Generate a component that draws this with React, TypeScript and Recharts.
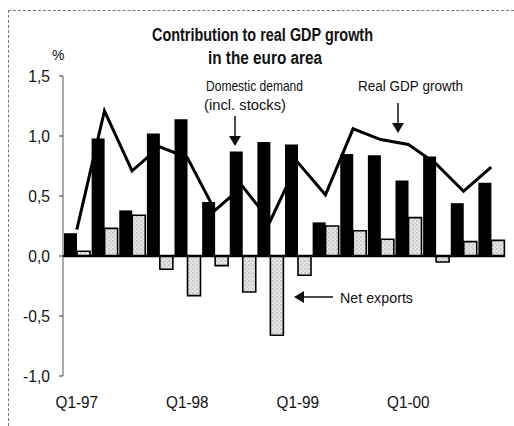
import { ComposedChart, Bar, Line, XAxis, YAxis, ReferenceLine } from "recharts";

const quarters = [
  "Q1-97", "Q2-97", "Q3-97", "Q4-97",
  "Q1-98", "Q2-98", "Q3-98", "Q4-98",
  "Q1-99", "Q2-99", "Q3-99", "Q4-99",
  "Q1-00", "Q2-00", "Q3-00", "Q4-00",
];
const domesticDemand = [0.19, 0.98, 0.38, 1.02, 1.14, 0.45, 0.87, 0.95, 0.93, 0.28, 0.85, 0.84, 0.63, 0.83, 0.44, 0.61];
const netExports = [0.04, 0.23, 0.34, -0.11, -0.33, -0.08, -0.3, -0.66, -0.16, 0.25, 0.21, 0.14, 0.32, -0.05, 0.12, 0.13];
const gdpGrowth = [0.22, 1.21, 0.71, 0.91, 0.82, 0.38, 0.58, 0.29, 0.78, 0.51, 1.06, 0.97, 0.93, 0.77, 0.54, 0.74];
const yTicks = [-1, -0.5, 0, 0.5, 1, 1.5];

const data = quarters.map((q, i) => ({
  q,
  domestic: domesticDemand[i],
  net: netExports[i],
  gdp: gdpGrowth[i],
}));

const FONT = "'Liberation Sans Narrow', 'Arial Narrow', 'Liberation Sans', Arial, sans-serif";

const fmt = (v: number) => v.toFixed(1).replace(".", ",");

// narrow-looking tick labels: squeeze the regular face horizontally
function XTick({ x, y, payload }: any) {
  return (
    <g transform={`translate(${x},${y})`}>
      <text transform="scale(0.9,1)" textAnchor="middle" dy="0.71em" fontSize={17} fontFamily={FONT} fill="#111">
        {payload.value}
      </text>
    </g>
  );
}

function YTick({ x, y, payload }: any) {
  return (
    <g transform={`translate(${x},${y})`}>
      <text transform="scale(0.92,1)" textAnchor="end" dy="0.36em" fontSize={17} fontFamily={FONT} fill="#111">
        {fmt(payload.value)}
      </text>
    </g>
  );
}

function Annotations() {
  const txt = { fontFamily: FONT, fill: "#111", lengthAdjust: "spacingAndGlyphs" } as const;
  return (
    <svg
      width={514}
      height={426}
      style={{ position: "absolute", left: 0, top: 0, pointerEvents: "none" }}
    >
      <text {...txt} x={152} y={41} textLength={221} fontSize={17.5} fontWeight="bold">
        Contribution to real GDP growth
      </text>
      <text {...txt} x={208} y={64} textLength={114} fontSize={17.5} fontWeight="bold">
        in the euro area
      </text>
      <text {...txt} x={52} y={60} fontSize={14}>%</text>

      <text {...txt} x={206} y={91} textLength={97} fontSize={15.5}>Domestic demand</text>
      <text {...txt} x={204} y={110} textLength={82} fontSize={15.5}>(incl. stocks)</text>
      <line x1={235} y1={116} x2={235} y2={138} stroke="#111" strokeWidth={1.5} />
      <polygon points="229,136 241,136 235,146" fill="#111" />

      <text {...txt} x={358} y={91} textLength={105} fontSize={15.5}>Real GDP growth</text>
      <line x1={398} y1={103} x2={398} y2={125} stroke="#111" strokeWidth={1.5} />
      <polygon points="392,123 404,123 398,133" fill="#111" />

      <text {...txt} x={340} y={303} textLength={73} fontSize={15.5}>Net exports</text>
      <line x1={333} y1={297} x2={302} y2={297} stroke="#111" strokeWidth={1.5} />
      <polygon points="304,291 304,303 294,297" fill="#111" />
    </svg>
  );
}

export default function App() {
  return (
    <div
      style={{
        position: "absolute",
        left: 0,
        top: 0,
        width: 514,
        height: 426,
        background: "#fff",
        fontFamily: FONT,
        overflow: "hidden",
      }}
    >
      <div
        style={{
          position: "absolute",
          left: 8,
          top: 10,
          width: 520,
          height: 430,
          borderLeft: "1px dashed #777",
          borderTop: "1px dashed #777",
        }}
      />
      <ComposedChart
        width={514}
        height={426}
        data={data}
        margin={{ top: 76, right: 9, bottom: 20, left: 0 }}
        barCategoryGap={1}
        barGap={0}
      >
        <defs>
          <pattern id="stipple" width={4} height={4} patternUnits="userSpaceOnUse">
            <rect width={4} height={4} fill="#e6e6e6" />
            <circle cx={1} cy={1} r={0.7} fill="#9a9a9a" />
            <circle cx={3} cy={3} r={0.7} fill="#b4b4b4" />
          </pattern>
        </defs>
        <XAxis
          dataKey="q"
          interval={3}
          height={30}
          axisLine={false}
          tickLine={false}
          tickSize={0}
          tickMargin={20}
          tick={<XTick />}
        />
        <YAxis
          width={63}
          domain={[-1, 1.5]}
          ticks={yTicks}
          axisLine={{ stroke: "#555", strokeWidth: 1 }}
          tickLine={{ stroke: "#333", strokeWidth: 1 }}
          tickSize={4}
          tickMargin={9}
          tick={<YTick />}
        />
        <Bar dataKey="domestic" fill="#000" isAnimationActive={false} />
        <Bar
          dataKey="net"
          fill="url(#stipple)"
          stroke="#000"
          strokeWidth={1.6}
          isAnimationActive={false}
        />
        <ReferenceLine y={0} stroke="#000" strokeWidth={2.5} />
        <Line
          dataKey="gdp"
          type="linear"
          stroke="#000"
          strokeWidth={3}
          dot={false}
          activeDot={false}
          isAnimationActive={false}
        />
      </ComposedChart>
      <Annotations />
    </div>
  );
}
